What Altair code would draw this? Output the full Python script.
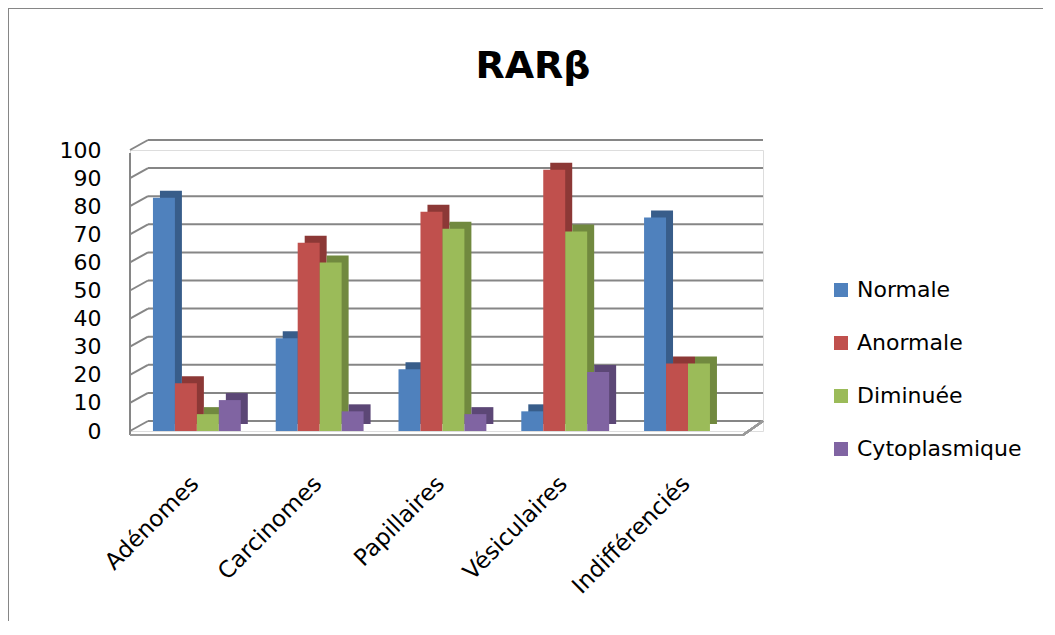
import altair as alt
import pandas as pd

# ---- data ----
categories = ["Adénomes", "Carcinomes", "Papillaires", "Vésiculaires", "Indifférenciés"]
series = ["Normale", "Anormale", "Diminuée", "Cytoplasmique"]
normale = [83, 33, 22, 7, 76]
anormale = [17, 67, 78, 93, 24]
diminuee = [6, 60, 72, 71, 24]
cytoplasmique = [11, 7, 6, 21, 0]
y_ticks = list(range(0, 101, 10))
title_text = "RARβ"

colors = ["#4F81BD", "#C0504D", "#9BBB59", "#8064A2"]
dark_colors = ["#385D8A", "#8C3836", "#71893F", "#5C4776"]

values_by_series = [normale, anormale, diminuee, cytoplasmique]
rows = []
for si, (s, vals, dk) in enumerate(zip(series, values_by_series, dark_colors)):
    for ci, (c, v) in enumerate(zip(categories, vals)):
        rows.append({"cat": c, "ci": ci, "serie": s, "si": si, "val": v, "dark": dk})
df = pd.DataFrame(rows)
grid_df = pd.DataFrame({"v": y_ticks})
title_df = pd.DataFrame({"t": [title_text]})

FONT = "DejaVu Sans"
GRID = "#868686"

# layout of the grouped bars in "bar-width" units
STEP = 5.59      # one category group + gap
LEAD = 1.045     # space before the first bar
TOTAL = 28.82    # full x extent
n_ser = len(series)
centers = [LEAD + i * STEP + n_ser / 2 for i in range(len(categories))]
cat_js = "[" + ",".join("'%s'" % c for c in categories) + "]"

yscale = alt.Scale(domain=[0, 100], nice=False, padding=0)
yaxis = alt.Axis(values=y_ticks, labelFontSize=22, labelFont=FONT, labelColor="black",
                 domain=False, ticks=False, grid=False, labelPadding=29, title=None)
xscale = alt.Scale(domain=[0, TOTAL], nice=False, zero=False, padding=0)
xaxis = alt.Axis(values=centers,
                 labelExpr=f"{cat_js}[round((datum.value - {LEAD + n_ser / 2}) / {STEP})]",
                 labelAngle=-45, labelFontSize=23, labelFont=FONT, labelColor="black",
                 domain=False, ticks=False, grid=False, labelPadding=41, labelOffset=-10,
                 title=None, labelOverlap=False, labelBound=False, labelFlush=False)

Y = alt.Y("val:Q", scale=yscale, axis=yaxis)

def bars(**mark_kw):
    return alt.Chart(df).transform_calculate(
        x0=f"datum.ci * {STEP} + datum.si + {LEAD}",
        x1=f"datum.ci * {STEP} + datum.si + {LEAD} + 1",
    ).mark_bar(**mark_kw)

# back-wall gridlines
grid = alt.Chart(grid_df).mark_rule(color=GRID, strokeWidth=2, yOffset=-10).encode(
    y=alt.Y("v:Q", scale=yscale, axis=yaxis),
    x=alt.value(18), x2=alt.value(633),
)
# side-wall slanted gridlines
wall = alt.Chart(grid_df).mark_rule(color=GRID, strokeWidth=2, y2Offset=-10).encode(
    y=alt.Y("v:Q", scale=yscale, axis=yaxis), y2=alt.Y2("v"),
    x=alt.value(0), x2=alt.value(18),
)
wall_edge = alt.Chart(grid_df).mark_rule(color=GRID, strokeWidth=2).encode(
    x=alt.value(0), y=alt.value(3), y2=alt.value(285)
)
floor_front = alt.Chart(grid_df).mark_rule(color="#9A9A9A", strokeWidth=2).encode(
    x=alt.value(0), x2=alt.value(613), y=alt.value(285)
)
floor_side = alt.Chart(grid_df).mark_rule(color="#9A9A9A", strokeWidth=2).encode(
    x=alt.value(613), x2=alt.value(633), y=alt.value(285), y2=alt.value(271)
)
border_top = alt.Chart(grid_df).mark_rule(color="#868686", strokeWidth=2).encode(
    x=alt.value(-122), x2=alt.value(930), y=alt.value(-142)
)
border_left = alt.Chart(grid_df).mark_rule(color="#868686", strokeWidth=2).encode(
    x=alt.value(-122), y=alt.value(-142), y2=alt.value(500)
)

shadow = bars(xOffset=7, x2Offset=7, yOffset=-7, y2Offset=-7).encode(
    x=alt.X("x0:Q", scale=xscale, axis=xaxis), x2="x1:Q", y=Y, y2=alt.datum(0),
    color=alt.Color("dark:N", scale=None),
)
front = bars().encode(
    x=alt.X("x0:Q", scale=xscale, axis=xaxis), x2="x1:Q", y=Y, y2=alt.datum(0),
    color=alt.Color("serie:N", sort=series,
                    scale=alt.Scale(domain=series, range=colors),
                    legend=alt.Legend(title=None, orient="none", legendX=700, legendY=129,
                                      symbolType="square", symbolSize=196, symbolStrokeWidth=0,
                                      labelFontSize=22, labelFont=FONT, labelColor="black",
                                      labelOffset=5, labelLimit=400, rowPadding=31, padding=0)),
)

title = alt.Chart(title_df).mark_text(
    font=FONT, fontSize=38, fontWeight="bold", color="black",
    align="center", baseline="alphabetic"
).encode(text="t:N", x=alt.value(403), y=alt.value(-72))

chart = alt.layer(
    border_top, border_left, grid, wall, wall_edge, floor_front, floor_side, shadow, front, title
).properties(
    width=633, height=281,
    autosize="none",
    padding={"left": 122, "top": 142, "right": 280, "bottom": 190},
).configure_view(stroke=None).configure(background="white")

chart.save("out.html", embed_options={"renderer": "svg", "actions": False})
